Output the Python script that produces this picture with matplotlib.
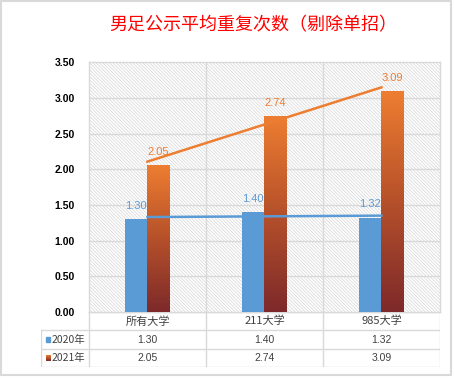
import numpy as np, matplotlib
matplotlib.use("Agg"); import matplotlib.pyplot as plt
from matplotlib.colors import LinearSegmentedColormap
from matplotlib.patches import Rectangle

categories = ["所有大学", "211大学", "985大学"]
series_names = ["2020年", "2021年"]
v2020 = [1.30, 1.40, 1.32]
v2021 = [2.05, 2.74, 3.09]
yticks = [0, 0.5, 1.0, 1.5, 2.0, 2.5, 3.0, 3.5]

BLU = "#5b9bd5"; ORG = "#ed7d31"; DRK = "#7e2a2b"; GRID = "#d9d9d9"; TXT = "#404040"
CJK = ["Noto Sans CJK SC", "DejaVu Sans"]
plt.rcParams["font.family"] = CJK
plt.rcParams["hatch.linewidth"] = 0.5
plt.rcParams["hatch.color"] = "#d4d4d4"
grad = LinearSegmentedColormap.from_list("g", [DRK, "#b5502a", ORG])

fig = plt.figure(figsize=(4.54, 3.78), dpi=100)
fig.patches.append(Rectangle((0.002, 0.007), 0.992, 0.99, transform=fig.transFigure,
                             fill=False, edgecolor=GRID, lw=1.5))
fig.text(0.557, 0.934, "男足公示平均重复次数（剔除单招）", color="red", fontsize=13,
         fontweight="medium", ha="center", va="center")

ax = fig.add_axes([0.196, 0.1746, 0.773, 0.661])
x = np.arange(len(categories)); w = 0.19
ax.add_patch(Rectangle((0, 0), 1, 1, transform=ax.transAxes, facecolor="white",
                       edgecolor="#d4d4d4", hatch="\\" * 10, lw=0, zorder=0))
b1 = ax.bar(x - w/2, v2020, w, color=BLU, zorder=3)
b2 = ax.bar(x + w/2, v2021, w, color="none", zorder=3)
g = np.linspace(0, 1, 100).reshape(-1, 1)
for p in b2:
    ax.imshow(g, extent=[p.get_x(), p.get_x()+p.get_width(), 0, p.get_height()],
              origin="lower", cmap=grad, aspect="auto", zorder=3)

for vals, col in [(v2020, BLU), (v2021, ORG)]:
    k, c = np.polyfit(x, vals, 1)
    ax.plot(x, k*x + c, color=col, lw=1.8, zorder=4)

for bars, vals, col in [(b1, v2020, BLU), (b2, v2021, ORG)]:
    for p, v in zip(bars, vals):
        ax.annotate(f"{v:.2f}", (p.get_x()+p.get_width()/2, v), xytext=(0, 6),
                    textcoords="offset points", ha="center", va="bottom",
                    color=col, fontsize=8, family="Liberation Sans", zorder=5)

ax.set_xlim(-0.5, 2.5); ax.set_ylim(0, 3.5)
ax.set_yticks(yticks)
ax.set_yticklabels([f"{t:.2f}" for t in yticks], fontsize=7.5, fontweight="bold",
                   family="Liberation Sans")
ax.tick_params(length=0, pad=10)
ax.set_xticks([])
for yy in yticks[1:-1]:
    ax.axhline(yy, color=GRID, lw=1, zorder=1)
for xx in [0.5, 1.5]:
    ax.axvline(xx, color=GRID, lw=1, zorder=1)
for s in ax.spines.values():
    s.set_color(GRID); s.set_linewidth(1)

# data table under the chart
tb = fig.add_axes([0.0903, 0.0291, 0.879, 0.1455])
tb.set_xlim(-0.91, 2.5); tb.set_ylim(3, 0); tb.axis("off")
kw = dict(color=GRID, lw=1)
tb.plot([-0.5, 2.5], [0, 0], **kw)
for yy in [1, 2, 3]:
    tb.plot([-0.91, 2.5], [yy, yy], **kw)
tb.plot([-0.91, -0.91], [1, 3], **kw)
for xx in [-0.5, 0.5, 1.5, 2.5]:
    tb.plot([xx, xx], [0, 3], **kw)
for i, c in enumerate(categories):
    tb.text(i, 0.5, c, ha="center", va="center", fontsize=8, color=TXT)
    tb.text(i, 1.5, f"{v2020[i]:.2f}", ha="center", va="center", fontsize=7.5, color=TXT,
            family="Liberation Sans")
    tb.text(i, 2.5, f"{v2021[i]:.2f}", ha="center", va="center", fontsize=7.5, color=TXT,
            family="Liberation Sans")
tb.add_patch(Rectangle((-0.87, 1.35), 0.04, 0.3, color=BLU))
tb.imshow(g, extent=[-0.87, -0.83, 2.65, 2.35], origin="lower", cmap=grad, aspect="auto")
tb.set_xlim(-0.91, 2.5); tb.set_ylim(3, 0)
for r, n in enumerate(series_names):
    tb.text(-0.82, 1.5 + r, n, ha="left", va="center", fontsize=7.5, color=TXT)

plt.savefig("out.png", dpi=100)
